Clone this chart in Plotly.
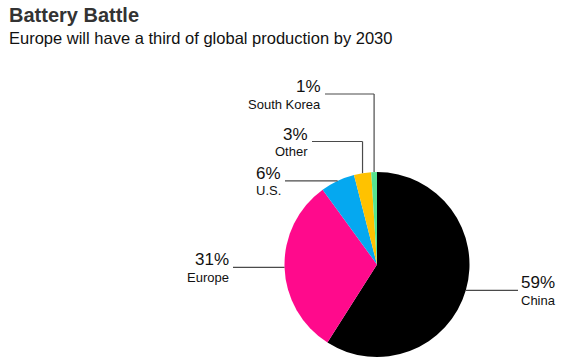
import math
import plotly.graph_objects as go

# ---- data ----
categories = ["China", "Europe", "U.S.", "Other", "South Korea"]
shares = [59, 31, 6, 3, 1]
colors = ["#000000", "#ff0a8c", "#05a8f0", "#ffc200", "#55e490"]

title = "Battery Battle"
subtitle = "Europe will have a third of global production by 2030"

W, H = 563, 364
CX, CY, R = 377, 264.5, 92.5  # pie geometry in window pixels


def px(x):
    return x / W


def py(y):
    return 1 - y / H


fig = go.Figure(go.Pie(
    labels=categories,
    values=shares,
    sort=False,
    direction="clockwise",
    rotation=0,
    marker=dict(colors=colors, line=dict(width=0)),
    textinfo="none",
    hoverinfo="label+percent",
    showlegend=False,
    domain=dict(x=[px(CX - R), px(CX + R)], y=[py(CY + R), py(CY - R)]),
))

leaders = {
    "China": ("right", 518, None),
    "Europe": ("left", 233, None),
    "U.S.": ("left", 285, None),
    "Other": ("up", 312, 141.5),
    "South Korea": ("up", 325, 94),
}

total = sum(shares)
cum = 0
shapes = []
annotations = []
line_style = dict(color="#4a4a4a", width=1.2)
for cat, val in zip(categories, shares):
    mid = (cum + val / 2) / total * 2 * math.pi
    cum += val
    ex = CX + R * math.sin(mid)
    ey = CY - R * math.cos(mid)
    kind, xend, yline = leaders[cat]
    if kind == "up":
        shapes.append(dict(type="line", xref="paper", yref="paper",
                           x0=px(ex), y0=py(ey), x1=px(ex), y1=py(yline), line=line_style))
        shapes.append(dict(type="line", xref="paper", yref="paper",
                           x0=px(ex), y0=py(yline), x1=px(xend), y1=py(yline), line=line_style))
        ly = yline
    else:
        shapes.append(dict(type="line", xref="paper", yref="paper",
                           x0=px(ex), y0=py(ey), x1=px(xend), y1=py(ey), line=line_style))
        ly = ey
    if kind == "right":
        tx, anchor = xend + 1, "left"
    else:
        tx, anchor = xend - 2, "right"
    annotations.append(dict(x=px(tx), y=py(ly - 7.5), xref="paper", yref="paper",
                            text=f"{val}%", showarrow=False, xanchor=anchor, yanchor="middle",
                            font=dict(size=17, color="#111111", family="Arial, Liberation Sans")))
    annotations.append(dict(x=px(tx), y=py(ly + 10), xref="paper", yref="paper",
                            text=cat, showarrow=False, xanchor=anchor, yanchor="middle",
                            font=dict(size=13, color="#111111", family="Arial, Liberation Sans")))

annotations.append(dict(x=px(7), y=py(15), xref="paper", yref="paper", text=f"<b>{title}</b>",
                        showarrow=False, xanchor="left", yanchor="middle",
                        font=dict(size=20, color="#333333", family="Arial, Liberation Sans")))
annotations.append(dict(x=px(7), y=py(38.5), xref="paper", yref="paper", text=subtitle,
                        showarrow=False, xanchor="left", yanchor="middle",
                        font=dict(size=16.5, color="#111111", family="Arial, Liberation Sans")))

fig.update_layout(
    width=W, height=H,
    margin=dict(l=0, r=0, t=0, b=0),
    paper_bgcolor="white", plot_bgcolor="white",
    shapes=shapes, annotations=annotations,
)

fig.write_html("out.html", config={"displayModeBar": False},
               post_script="document.body.style.margin='0';")
